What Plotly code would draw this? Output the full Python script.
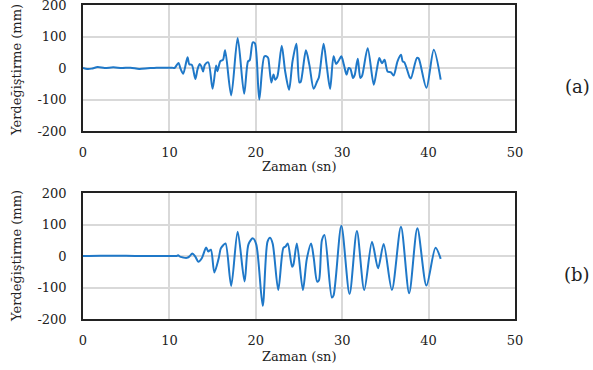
import plotly.graph_objects as go

# (a) top record
t_a = [0, 0.5, 1.0, 1.7, 2.5, 3.5, 4.5, 5.5, 6.5, 7.5, 8.5, 9.5, 10.3, 10.6, 11.05, 11.3, 11.6, 12.1, 12.3, 12.6, 13.0,
       13.25, 13.5, 13.7, 13.9, 14.1, 14.5, 15.0, 15.4, 15.55, 15.9, 16.2, 16.45, 17.15, 17.9,
       18.65, 19.1, 19.3, 19.65, 19.9, 20.4, 21.0, 21.35, 21.45, 21.8, 22.05, 22.25, 22.5, 23.0,
       23.4, 23.85, 24.25, 24.7, 25.05, 25.2, 25.8, 26.2, 26.7, 27.1, 27.3, 27.85, 28.2, 28.6,
       29.0, 29.3, 29.6, 29.9, 30.2, 30.5, 30.75, 30.95, 31.25, 31.45, 31.8, 32.1, 32.3, 32.95,
       33.65, 34.0, 34.3, 34.6, 34.9, 35.25, 35.65, 35.95, 36.4, 36.8, 37.0, 37.2, 37.8, 37.95,
       38.65, 38.85, 39.75, 40.6, 41.4]
y_a = [0, -3, -2, 3, 0, 2, 0, 1, -3, -1, 1, 1, 1, 0, 16, -3, -18, 34, 12, 10, -35,
       -5, 13, 5, -11, 10, 18, -66, 8, -10, 22, 26, 56, -87, 95,
       -82, 21, 25, 81, 78, -100, 37, 35, 30, -46, -21, -37, -27, 71,
       -11, -69, 21, 77, -46, -44, 56, 10, -66, -42, -30, 77, 8, -66,
       37, 13, 24, 37, 10, -21, 0, -3, -32, -22, 29, -32, -25, 63,
       -53, -6, 32, 15, 26, -11, -14, -24, 21, 42, 21, 18, -29, -33,
       32, 30, -63, 58, -37]

# (b) bottom record
t_b = [0, 2, 4, 6, 8, 10, 10.85, 11.0, 11.3, 11.6, 12.0, 12.3, 12.65, 13.0, 13.35, 13.75, 14.25,
       14.5, 14.8, 15.2, 15.7, 15.95, 16.25, 16.5, 17.15, 17.9, 18.7, 19.15, 19.65, 20.05,
       20.8, 21.35, 21.65, 21.95, 22.6, 23.2, 23.45, 23.7, 24.2, 24.35, 24.75, 25.45, 25.9,
       26.4, 26.7, 27.1, 27.3, 27.65, 27.95, 28.8, 29.0, 29.9, 30.85, 31.7, 32.55, 33.45,
       34.15, 34.8, 35.75, 36.8, 37.75, 38.7, 39.75, 40.8, 41.4]
y_b = [0, 1, 1, 0, 0, 0, 0, 2, -3, -5, -6, -2, 8, -2, -18, -7, 27,
       14, 20, -52, -8, 24, 35, 40, -95, 77, -81, 37, 56, 37,
       -158, 45, 58, 40, -108, 26, 30, 40, -34, -28, 40, -108, -10,
       40, -5, -81, -78, 50, 67, -132, -125, 96, -121, 79, -108, 45,
       -39, 38, -108, 93, -118, 88, -94, 26, -9]

x_ticks = [0, 10, 20, 30, 40, 50]
y_ticks = [-200, -100, 0, 100, 200]
y_ticktext = ["-200", "-100", "0", "100", "200"]

W, H = 593, 370
LINE = "#1f78c8"
FONT = "DejaVu Serif"
TXT = "#222222"

fig = go.Figure()
fig.add_trace(go.Scatter(x=t_a, y=y_a, mode="lines", line=dict(color=LINE, width=2, shape="spline", smoothing=0.8),
                         xaxis="x", yaxis="y", showlegend=False, hoverinfo="skip"))
fig.add_trace(go.Scatter(x=t_b, y=y_b, mode="lines", line=dict(color=LINE, width=2, shape="spline", smoothing=0.8),
                         xaxis="x2", yaxis="y2", showlegend=False, hoverinfo="skip"))

xd = [83 / W, 515 / W]
top_dom = [1 - 131 / H, 1 - 5 / H]
bot_dom = [1 - 319 / H, 1 - 193 / H]

xax = dict(range=[0, 50], tickvals=x_ticks, showgrid=True, gridcolor="#d9d9d9", gridwidth=1.5,
           showline=True, linecolor="#222", linewidth=1.5, mirror=True, zeroline=False, automargin=False,
           ticklabeloverflow="allow",
           ticks="", ticklabelstandoff=9, tickfont=dict(family=FONT, size=13, color=TXT),
           domain=xd)
yax = dict(range=[-200, 200], tickvals=y_ticks, ticktext=y_ticktext, showgrid=True, gridcolor="#d9d9d9",
           gridwidth=1.5, showline=True, linecolor="#222", linewidth=1.5, mirror=True, zeroline=False,
           automargin=False, ticklabeloverflow="allow",
           ticks="", ticklabelstandoff=12, tickfont=dict(family=FONT, size=13, color=TXT))

fig.update_layout(
    width=W, height=H, margin=dict(l=0, r=0, t=0, b=0, pad=0),
    paper_bgcolor="white", plot_bgcolor="white",
    xaxis=dict(xax, anchor="y"),
    yaxis=dict(yax, domain=top_dom, anchor="x"),
    xaxis2=dict(xax, anchor="y2"),
    yaxis2=dict(yax, domain=bot_dom, anchor="x2"),
)

annots = []
for yc_title, yc_x, yc_lab, lab in [(70, 166, 86, "(a)"), (256, 356, 274, "(b)")]:
    annots.append(dict(text="Yerdeğiştirme (mm)", x=16 / W, y=1 - yc_title / H, xref="paper", yref="paper",
                       textangle=-90, showarrow=False, xanchor="center", yanchor="middle",
                       font=dict(family=FONT, size=13, color=TXT)))
    annots.append(dict(text="Zaman (sn)", x=299 / W, y=1 - yc_x / H, xref="paper", yref="paper",
                       showarrow=False, xanchor="center", yanchor="middle",
                       font=dict(family=FONT, size=13, color=TXT)))
    annots.append(dict(text=lab, x=577 / W, y=1 - yc_lab / H, xref="paper", yref="paper",
                       showarrow=False, xanchor="center", yanchor="middle",
                       font=dict(family=FONT, size=18, color=TXT)))
fig.update_layout(annotations=annots)

fig.write_html("out.html", config={"displayModeBar": False},
               post_script="document.body.style.margin='0';document.body.style.padding='0';")
